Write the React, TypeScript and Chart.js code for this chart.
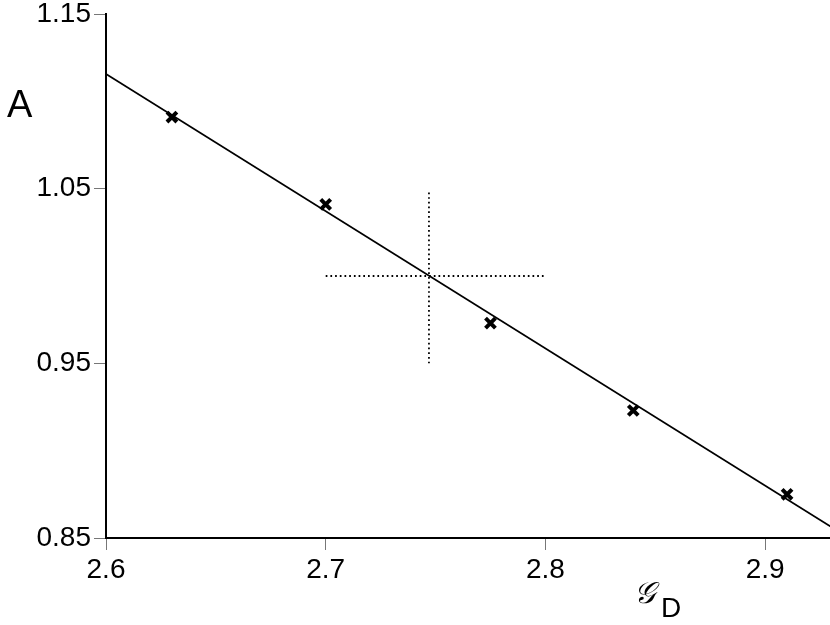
import React, { useEffect, useRef } from "react";
import { Chart, registerables } from "chart.js";

Chart.register(...registerables);

const pointX = [2.63, 2.7, 2.775, 2.84, 2.91];
const pointY = [1.091, 1.041, 0.973, 0.923, 0.875];
const fitX = [2.6, 2.93];
const fitY = [1.1157, 0.8564];
const crossHX = [2.7, 2.8];
const crossHY = [1.0, 1.0];
const crossVX = [2.747, 2.747];
const crossVY = [0.95, 1.048];
const xTicks = [2.6, 2.7, 2.8, 2.9];
const yTicks = [0.85, 0.95, 1.05, 1.15];
const xTickLabels = ["2.6", "2.7", "2.8", "2.9"];
const yTickLabels = ["0.85", "0.95", "1.05", "1.15"];
const yTitle = "A";
const xTitleMain = "𝒢";
const xTitleSub = "D";

const FONT = "'Liberation Sans', Arial, sans-serif";
const CW = 842;

const labelsPlugin = {
  id: "axisTitles",
  afterDraw(chart: any) {
    const ctx = chart.ctx;
    ctx.save();
    ctx.fillStyle = "#000";
    ctx.textBaseline = "alphabetic";
    ctx.textAlign = "left";
    ctx.font = `38px ${FONT}`;
    ctx.fillText(yTitle, 7, 117);
    ctx.font = `italic 30px 'DejaVu Serif', 'DejaVu Sans', serif`;
    ctx.fillText(xTitleMain, 634, 603);
    ctx.font = `28px ${FONT}`;
    ctx.fillText(xTitleSub, 661, 617);
    ctx.restore();
  },
};

export default function App() {
  const ref = useRef<HTMLCanvasElement | null>(null);
  useEffect(() => {
    if (!ref.current) return;
    const dotted = { borderColor: "#000", borderWidth: 1.8, borderDash: [1.7, 3], pointRadius: 0, fill: false };
    const chart = new Chart(ref.current, {
      type: "scatter",
      data: {
        datasets: [
          {
            type: "line",
            data: fitX.map((x, i) => ({ x, y: fitY[i] })),
            borderColor: "#000",
            borderWidth: 1.8,
            pointRadius: 0,
            fill: false,
          } as any,
          {
            type: "line",
            data: crossHX.map((x, i) => ({ x, y: crossHY[i] })),
            ...dotted,
          } as any,
          {
            type: "line",
            data: crossVX.map((x, i) => ({ x, y: crossVY[i] })),
            ...dotted,
          } as any,
          {
            data: pointX.map((x, i) => ({ x, y: pointY[i] })),
            pointStyle: "crossRot",
            pointRadius: 7,
            borderColor: "#000",
            borderWidth: 4,
            backgroundColor: "#000",
          },
        ],
      },
      options: {
        responsive: false,
        animation: false,
        devicePixelRatio: 1,
        layout: { padding: { top: 14, right: 0, left: 0, bottom: 0 } },
        plugins: {
          legend: { display: false },
          tooltip: { enabled: false },
          title: { display: false },
        },
        scales: {
          x: {
            type: "linear",
            min: 2.6,
            max: 2.93,
            afterBuildTicks: (s: any) => {
              s.ticks = xTicks.map((v) => ({ value: v }));
            },
            afterFit: (s: any) => {
              s.height = 87;
              s.paddingLeft = 0;
              s.paddingRight = 0;
            },
            ticks: {
              callback: (v: any) => {
                const i = xTicks.findIndex((t) => Math.abs(t - Number(v)) < 1e-9);
                return i >= 0 ? xTickLabels[i] : "";
              },
              font: { family: FONT, size: 28 },
              color: "#000",
              padding: 3,
              maxRotation: 0,
              autoSkip: false,
            },
            grid: {
              drawOnChartArea: false,
              drawTicks: true,
              tickLength: 12,
              tickColor: "#777",
              tickWidth: 1,
            },
            border: { display: true, color: "#000", width: 2 },
          },
          y: {
            type: "linear",
            min: 0.85,
            max: 1.15,
            afterBuildTicks: (s: any) => {
              s.ticks = yTicks.map((v) => ({ value: v }));
            },
            afterFit: (s: any) => {
              s.width = 106;
              s.paddingTop = 0;
              s.paddingBottom = 0;
            },
            ticks: {
              callback: (v: any) => {
                const i = yTicks.findIndex((t) => Math.abs(t - Number(v)) < 1e-9);
                return i >= 0 ? yTickLabels[i] : "";
              },
              font: { family: FONT, size: 28 },
              color: "#000",
              padding: 3,
              autoSkip: false,
            },
            grid: {
              drawOnChartArea: false,
              drawTicks: true,
              tickLength: 12,
              tickColor: "#777",
              tickWidth: 1,
            },
            border: { display: true, color: "#000", width: 2 },
          },
        },
      },
      plugins: [labelsPlugin],
    } as any);
    return () => chart.destroy();
  }, []);
  return (
    <div style={{ position: "absolute", left: 0, top: 0, width: 830, height: 625, overflow: "hidden" }}>
      <canvas
        ref={ref}
        width={CW}
        height={625}
        style={{ position: "absolute", left: 0, top: 0, width: CW, height: 625, display: "block" }}
      />
    </div>
  );
}
